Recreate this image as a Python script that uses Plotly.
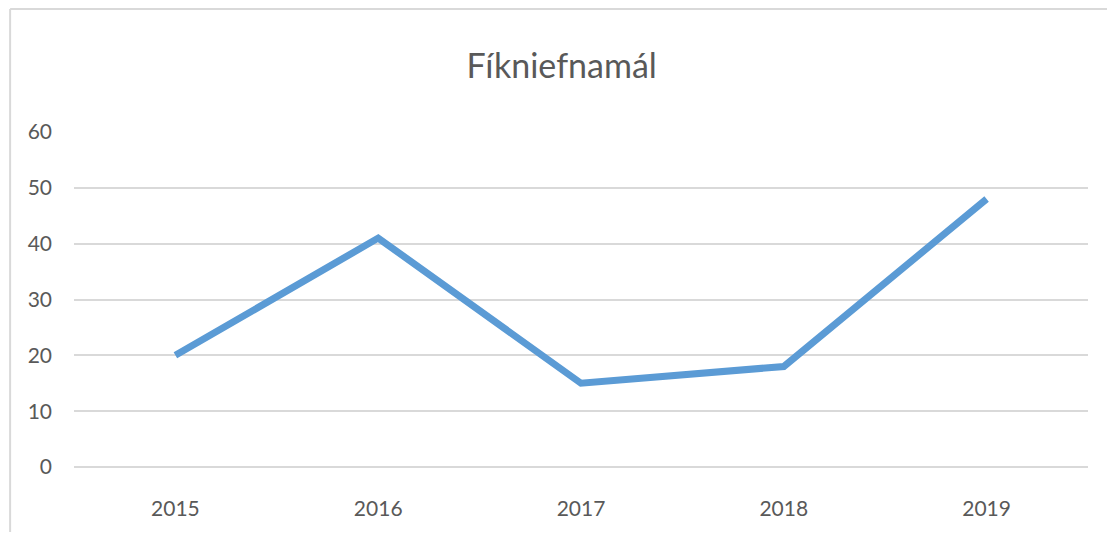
import plotly.graph_objs as go

# Data
years = ["2015", "2016", "2017", "2018", "2019"]
cases = [20, 41, 15, 18, 48]
y_ticks = [0, 10, 20, 30, 40, 50, 60]

fig = go.Figure()

fig.add_trace(go.Scatter(x=years, y=cases, mode='lines',
                         line=dict(color='#5B9BD5', width=7),
                         name='Fíkniefnamál', showlegend=False))

# Outer chart frame: only the left and top edges are visible in the picture
fig.add_shape(type='line', xref='paper', yref='paper',
              x0=-0.063, x1=-0.063, y0=-0.3, y1=1.367,
              line=dict(color='#D9D9D9', width=2))
fig.add_shape(type='line', xref='paper', yref='paper',
              x0=-0.063, x1=1.05, y0=1.367, y1=1.367,
              line=dict(color='#D9D9D9', width=2))

# the page body adds an 8px offset; the figure is shrunk so nothing overflows the window
fig.update_layout(
    width=1099, height=524,
    margin=dict(l=65.5, r=18.5, t=124, b=65),
    paper_bgcolor='white',
    plot_bgcolor='white',
    font=dict(family='Lato, sans-serif', color='#595959'),
    title=dict(text='Fíkniefnamál', x=0.481, xref='paper', xanchor='center',
               y=1 - 58 / 524, yref='container', yanchor='middle',
               font=dict(size=34, color='#595959', family='Lato, sans-serif')),
    xaxis=dict(type='category', range=[-0.5, 4.5], showgrid=False, zeroline=False,
               showline=False, ticks='', tickfont=dict(size=21, color='#595959'),
               ticklabelstandoff=27),
    yaxis=dict(range=[0, 60], tickvals=y_ticks, showgrid=True, gridcolor='#D9D9D9',
               gridwidth=2, zeroline=True, zerolinecolor='#D9D9D9', zerolinewidth=2,
               showline=False, ticks='',
               tickfont=dict(size=21, color='#595959'), ticklabelstandoff=21),
)

fig.write_html("out.html")
